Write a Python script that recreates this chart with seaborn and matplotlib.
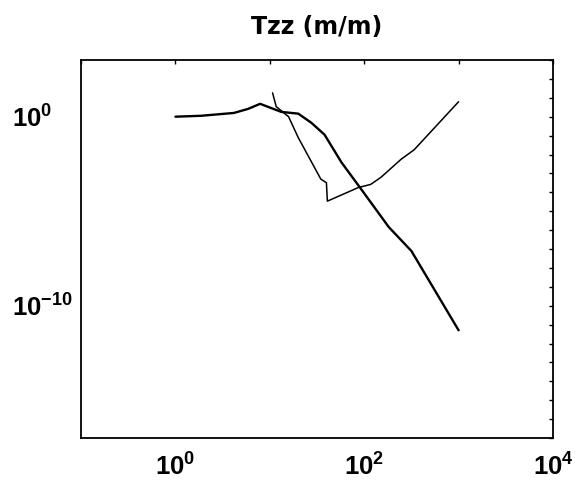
import matplotlib
matplotlib.use("Agg")
import matplotlib.pyplot as plt
import matplotlib.ticker as mticker
import numpy as np
import pandas as pd
import seaborn as sns

# ---- data ----
thick_x = [1.0, 1.88, 4.17, 5.9, 7.9, 13.2, 20.0, 27.5, 38.0, 57.5, 93.0, 182.0, 316.0, 1000.0]
thick_y = [1.0, 1.12, 1.58, 2.6, 4.8, 1.8, 1.45, 0.48, 0.112, 3.8e-3, 1.45e-4, 1.45e-6, 7.9e-8, 5.0e-12]

thin_x = [10.7, 11.7, 15.8, 20.0, 34.7, 39.8, 40.7, 87.0, 117.0, 151.0, 245.0, 339.0, 1000.0]
thin_y = [18.2, 3.4, 1.0, 0.079, 5.0e-4, 3.2e-4, 3.4e-5, 1.8e-4, 2.6e-4, 6.3e-4, 5.5e-3, 1.8e-2, 6.2]

title = "Tzz (m/m)"
x_tick_vals = [1e-1, 1e0, 1e1, 1e2, 1e3, 1e4]
x_tick_labels = ["", r"$10^{0}$", "", r"$10^{2}$", "", r"$10^{4}$"]
y_tick_exps = list(range(-17, 4))
y_labeled = {0: r"$10^{0}$", -10: r"$10^{-10}$"}

sns.set_style("white")
plt.rcParams["font.family"] = ["Liberation Sans", "DejaVu Sans"]
plt.rcParams["text.color"] = "black"
plt.rcParams["xtick.color"] = "black"
plt.rcParams["ytick.color"] = "black"
plt.rcParams["xtick.labelcolor"] = "black"
plt.rcParams["ytick.labelcolor"] = "black"
plt.rcParams["mathtext.fontset"] = "custom"
plt.rcParams["mathtext.rm"] = "Liberation Sans:bold"
plt.rcParams["mathtext.it"] = "Liberation Sans:bold"
plt.rcParams["mathtext.bf"] = "Liberation Sans:bold"
plt.rcParams["mathtext.default"] = "rm"

fig = plt.figure(figsize=(5.75, 4.88), dpi=100)
ax = fig.add_axes([81 / 575, 1 - 438 / 488, (553 - 81) / 575, (438 - 60) / 488])

df_thick = pd.DataFrame({"x": thick_x, "y": thick_y})
df_thin = pd.DataFrame({"x": thin_x, "y": thin_y})
sns.lineplot(data=df_thick, x="x", y="y", ax=ax, color="black", lw=1.7,
             sort=False, estimator=None)
sns.lineplot(data=df_thin, x="x", y="y", ax=ax, color="black", lw=1.1,
             sort=False, estimator=None)

ax.set_xscale("log")
ax.set_yscale("log")
ax.set_xlim(1e-1, 1e4)
ax.set_ylim(1e-17, 1e3)
ax.set_xlabel("")
ax.set_ylabel("")

ax.xaxis.set_major_locator(mticker.FixedLocator(x_tick_vals))
ax.xaxis.set_major_formatter(mticker.FixedFormatter(x_tick_labels))
ax.xaxis.set_minor_locator(mticker.NullLocator())
y_vals = [10.0 ** e for e in y_tick_exps]
ax.yaxis.set_major_locator(mticker.FixedLocator(y_vals))
ax.yaxis.set_major_formatter(mticker.FixedFormatter([y_labeled.get(e, "") for e in y_tick_exps]))
ax.yaxis.set_minor_locator(mticker.NullLocator())

ax.tick_params(axis="both", which="major", direction="in", length=3, width=1.0,
               top=True, right=True, color="black", labelsize=18.5,
               labelcolor="black")
ax.tick_params(axis="x", pad=11)
ax.tick_params(axis="y", pad=50)
for lab in ax.get_yticklabels():
    lab.set_horizontalalignment("left")

for s in ax.spines.values():
    s.set_visible(True)
    s.set_color("black")
    s.set_linewidth(1.3)

ax.set_title(title, fontsize=17, fontweight="bold", pad=19, color="black",
             family=["DejaVu Sans"])

fig.savefig("out.png", dpi=100)
